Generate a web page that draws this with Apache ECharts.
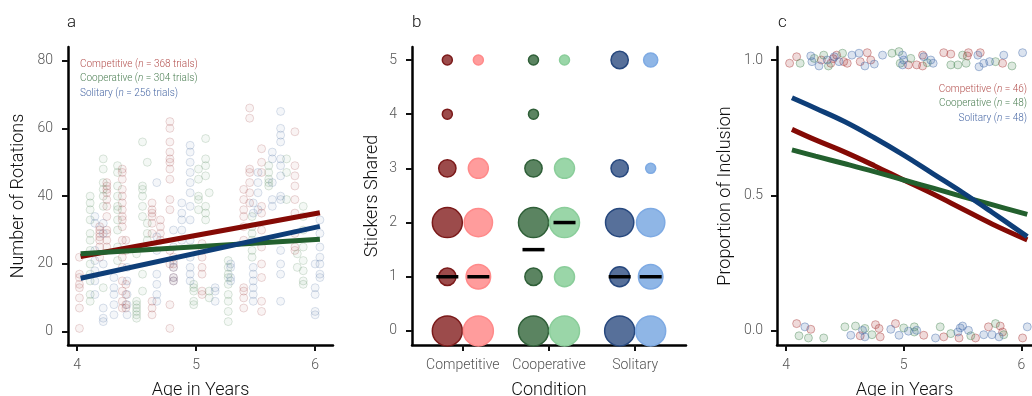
<!DOCTYPE html>
<html><head><meta charset="utf-8">
<script src="https://cdn.jsdelivr.net/npm/echarts@6/dist/echarts.min.js"></script>
<style>html,body{margin:0;padding:0;background:#fff}#c{width:1032px;height:396px}</style>
</head><body><div id="c"></div>
<script>
// ---------- shared ----------
const conditions = ['Competitive', 'Cooperative', 'Solitary'];
const ageTicks = [4, 5, 6];
const rotationTicks = [0, 20, 40, 60, 80];
const stickerTicks = [0, 1, 2, 3, 4, 5];
const inclusionTicks = [0, 0.5, 1];

// ---------- panel a: rotations per trial, columns of [age, values] ----------
const compRotations = [
  [4.02, [1, 7, 10, 13, 14, 16, 17, 22]],
  [4.19, [22, 25, 27, 28, 29, 30, 31]],
  [4.25, [25, 27, 29, 30, 34, 37, 39, 41, 42, 43, 44]],
  [4.38, [7, 9, 12, 15, 19, 22, 24, 27, 31, 33, 34, 36, 38, 40, 42, 45, 47, 48]],
  [4.41, [7, 8, 11, 14, 24, 27]],
  [4.63, [5, 7, 9, 29, 32, 34, 35, 36, 38]],
  [4.70, [27, 29, 31, 33]],
  [4.78, [1, 8, 20, 24, 36, 39, 45, 48, 50, 51, 53, 56, 60, 62]],
  [4.81, [15, 16, 19, 20, 22]],
  [5.05, [11, 12, 17, 19, 22, 24, 26]],
  [5.40, [7, 10, 12, 13, 27, 31, 34, 36, 39, 42]],
  [5.45, [38, 41, 44, 47, 48, 63, 66, 86]],
  [5.55, [6, 9, 16, 20, 25, 30, 35, 37, 47, 50, 54]],
  [5.83, [24, 25, 29, 35, 39, 43, 46, 49, 59]]
];
const coopRotations = [
  [4.11, [9, 11, 15, 17, 20, 24, 27, 29, 33, 36, 38, 40]],
  [4.22, [13, 37, 40, 42, 44, 48, 51]],
  [4.34, [21, 25, 30, 33, 36, 37, 40, 43, 47, 49]],
  [4.50, [4, 5, 6, 7, 8, 9, 23]],
  [4.55, [12, 17, 34, 37, 40, 42, 43, 56]],
  [4.59, [27, 29, 32, 50]],
  [4.98, [8, 9, 12, 13, 14]],
  [5.02, [36, 39, 40, 45, 48]],
  [5.08, [33, 35, 37, 46, 49, 51, 57]],
  [5.11, [10, 12, 41]],
  [5.27, [3, 6, 9, 11, 14, 16, 17, 19, 21]],
  [5.47, [22, 24, 27, 29, 31, 34]],
  [5.61, [43, 44, 45, 47, 49]],
  [5.76, [39, 47, 51]],
  [5.85, [19, 23]],
  [5.90, [14, 15, 18, 21, 25, 30, 34, 37]]
];
const soloRotations = [
  [4.15, [11, 15, 18, 21, 24, 32, 34]],
  [4.22, [3, 4, 7, 20, 29, 32]],
  [4.31, [5, 8, 11, 13, 16]],
  [4.42, [5, 8, 11, 15, 19]],
  [4.67, [9, 11, 14, 17, 24, 28, 44]],
  [4.81, [15, 16, 19, 21, 25, 30]],
  [4.88, [27, 30, 33, 35, 38]],
  [4.95, [15, 17, 19, 22, 27, 33, 37, 41, 44, 47, 50, 53, 55]],
  [5.16, [9, 12, 13]],
  [5.29, [15, 16, 19, 20]],
  [5.48, [9, 11, 13, 15, 17, 19, 35, 38]],
  [5.52, [36, 41, 44, 47]],
  [5.64, [37, 39, 44, 51, 53]],
  [5.71, [9, 17, 20, 24, 39, 40, 46, 49, 51, 56, 58, 60, 65]],
  [6.00, [5, 6, 11, 13, 20]],
  [6.04, [16, 17, 20, 22, 25, 29, 33]]
];
// fitted lines [age, rotations]
const compRotFit = [[4.03, 22.2], [6.04, 35.1]];
const coopRotFit = [[4.03, 23.0], [6.04, 27.3]];
const soloRotFit = [[4.03, 15.8], [6.04, 31.1]];

// ---------- panel b: counts per sticker level (0..5), two subgroups per condition ----------
const compDarkCounts  = [9, 3, 9, 3, 1, 1];
const compLightCounts = [9, 6, 8, 4, 0, 1];
const coopDarkCounts  = [9, 3, 9, 3, 1, 1];
const coopLightCounts = [9, 4, 9, 4, 0, 1];
const soloDarkCounts  = [9, 4, 8, 3, 0, 3];
const soloLightCounts = [9, 6, 8, 1, 0, 2];
const medianDark  = [1, 1.5, 1];
const medianLight = [1, 2, 1];

// ---------- panel c: inclusion (jittered 0/1) and fitted curves ----------
const compInclusion = [
  [4.03, 0.988], [4.09, 1.012], [4.30, 1.000], [4.38, 0.988], [4.40, 1.005], [4.43, 1.018], [4.49, 0.994],
  [4.52, 0.988], [4.63, 0.994], [4.69, 1.027], [4.72, 1.000], [5.04, 0.982], [5.11, 0.982], [5.16, 0.978],
  [5.16, 1.018], [5.34, 1.027], [5.40, 1.022], [5.54, 1.015], [5.55, 1.027], [5.65, 1.027], [5.84, 0.988],
  [4.09, 0.027], [4.21, 0.006], [4.63, -0.018], [4.76, 0.023], [4.79, 0.009], [4.80, -0.022], [4.93, 0.027],
  [5.17, -0.016], [5.34, -0.022], [5.47, -0.026], [5.61, -0.026], [5.72, 0.015], [5.82, 0.018], [5.84, -0.004],
  [6.01, -0.026]
];
const coopInclusion = [
  [4.12, 0.988], [4.24, 1.006], [4.32, 1.018], [4.36, 0.978], [4.48, 1.025], [4.90, 1.025], [4.96, 1.031],
  [4.97, 0.988], [5.06, 1.006], [5.20, 0.990], [5.40, 0.982], [5.46, 0.982], [5.50, 1.018], [5.53, 0.988],
  [5.78, 0.994], [5.92, 0.978],
  [4.11, -0.018], [4.19, -0.026], [4.32, -0.026], [4.50, 0.015], [4.59, 0.018], [4.67, 0.009], [4.73, -0.014],
  [5.00, 0.011], [5.09, -0.004], [5.09, 0.015], [5.31, 0.015], [5.40, -0.010], [5.57, -0.018], [5.78, 0.027],
  [5.85, -0.014]
];
const soloInclusion = [
  [4.21, 1.015], [4.22, 0.994], [4.28, 0.978], [4.35, 1.000], [4.41, 1.012], [4.45, 0.994], [4.56, 1.018],
  [4.62, 1.025], [4.67, 0.978], [4.75, 0.985], [4.82, 1.018], [4.99, 1.018], [5.00, 1.000], [4.99, 0.982],
  [5.17, 1.012], [5.23, 1.000], [5.25, 0.988], [5.63, 1.018], [5.64, 0.975], [5.68, 0.988], [5.73, 0.994],
  [5.85, 1.018], [6.01, 1.027],
  [4.16, 0.015], [4.55, -0.016], [4.65, 0.002], [4.67, -0.022], [4.89, 0.006], [4.96, -0.016], [5.04, -0.001],
  [5.11, 0.002], [5.27, -0.026], [5.46, -0.004], [5.48, 0.011], [5.50, 0.018], [5.55, 0.002], [5.68, -0.014],
  [5.75, -0.014], [5.81, -0.022], [6.05, 0.015]
];
const curveAges = [4.05, 4.25, 4.5, 4.75, 5.0, 5.25, 5.5, 5.75, 6.05];
const compCurve = [0.744, 0.705, 0.66, 0.61, 0.557, 0.505, 0.45, 0.395, 0.336];
const coopCurve = [0.668, 0.645, 0.617, 0.588, 0.557, 0.527, 0.496, 0.466, 0.43];
const soloCurve = [0.861, 0.822, 0.772, 0.713, 0.649, 0.58, 0.511, 0.438, 0.348];

// ---------- styling ----------
const FONT = 'Roboto, "Liberation Sans", sans-serif';
const C = {
  red: '#840a05', green: '#23602e', blue: '#0e3e78',
  redT: '#b3504e', greenT: '#4f8056', blueT: '#4b6aa6'
};

const flat = cols => cols.flatMap(([a, vs]) => vs.map(v => [a, v]));
const zipXY = (xs, ys) => xs.map((x, i) => [x, ys[i]]);
const bubbles = (counts, cat, off) => counts
  .map((n, lvl) => [cat + off, lvl, n]).filter(d => d[2] > 0);

function axis(gi, min, max, ticks, fmt, name, nameGap, margin) {
  return {
    type: 'value', gridIndex: gi, min, max,
    name, nameLocation: 'middle', nameGap,
    nameTextStyle: { fontFamily: FONT, fontSize: 18, color: '#111', fontWeight: 300 },
    axisLine: { show: true, onZero: false, lineStyle: { color: '#000', width: 2.5 } },
    axisTick: { show: true, length: 6, customValues: ticks, lineStyle: { color: '#111', width: 2 } },
    axisLabel: { customValues: ticks, formatter: fmt, margin, color: '#555', fontSize: 14, fontFamily: FONT, fontWeight: 300 },
    splitLine: { show: false }
  };
}

const faint = (r, g, b) => ({ color: `rgba(${r},${g},${b},0.07)`, borderColor: `rgba(${r},${g},${b},0.22)`, borderWidth: 1 });
const jit = (r, g, b) => ({ color: `rgba(${r},${g},${b},0.24)`, borderColor: `rgba(${r},${g},${b},0.55)`, borderWidth: 1 });

const series = [];
// panel a
[[compRotations, faint(150, 40, 40)], [coopRotations, faint(60, 120, 70)], [soloRotations, faint(50, 90, 150)]]
  .forEach(([cols, st]) => series.push({ type: 'scatter', xAxisIndex: 0, yAxisIndex: 0, data: flat(cols), symbolSize: 8, itemStyle: st, clip: true, silent: true }));
[[compRotFit, C.red], [coopRotFit, C.green], [soloRotFit, C.blue]]
  .forEach(([d, col]) => series.push({ type: 'line', xAxisIndex: 0, yAxisIndex: 0, data: d, showSymbol: false, lineStyle: { color: col, width: 5 }, silent: true }));

// panel b
const bubbleSpec = [
  [compDarkCounts, 1, -0.18, '#9c4b4b', '#7b1a1a'],
  [compLightCounts, 1, 0.18, '#ff9c9c', '#ff8a8a'],
  [coopDarkCounts, 2, -0.18, '#5b8461', '#2f5f38'],
  [coopLightCounts, 2, 0.18, '#9ad6a8', '#8acd9a'],
  [soloDarkCounts, 3, -0.18, '#57709a', '#27487e'],
  [soloLightCounts, 3, 0.18, '#8fb6e6', '#7eaae3']
];
bubbleSpec.forEach(([counts, cat, off, fill, border]) => series.push({
  type: 'scatter', xAxisIndex: 1, yAxisIndex: 1, data: bubbles(counts, cat, off),
  symbolSize: d => 10 * Math.sqrt(d[2]),
  itemStyle: { color: fill, borderColor: border, borderWidth: 1.5, opacity: 1 }, silent: true
}));
series.push({
  type: 'scatter', xAxisIndex: 1, yAxisIndex: 1, z: 5, silent: true,
  data: medianDark.map((m, i) => [i + 1 - 0.18, m]).concat(medianLight.map((m, i) => [i + 1 + 0.18, m])),
  symbol: 'rect', symbolSize: [22, 3.5], itemStyle: { color: '#000', opacity: 1 }
});

// panel c
[[compInclusion, jit(170, 60, 60)], [coopInclusion, jit(80, 140, 90)], [soloInclusion, jit(70, 110, 170)]]
  .forEach(([d, st]) => series.push({ type: 'scatter', xAxisIndex: 2, yAxisIndex: 2, data: d, symbolSize: 8, itemStyle: st, silent: true }));
[[compCurve, C.red], [coopCurve, C.green], [soloCurve, C.blue]]
  .forEach(([ys, col]) => series.push({ type: 'line', xAxisIndex: 2, yAxisIndex: 2, data: zipXY(curveAges, ys), smooth: 0.4, showSymbol: false, lineStyle: { color: col, width: 5 }, silent: true }));

const legendText = (x, y, lines, align) => lines.map(([label, n, col], i) => ({
  type: 'text', left: align === 'right' ? undefined : x, right: align === 'right' ? x : undefined, top: y + i * 14.5,
  style: {
    text: `{a|${label} (}{i|n}{a| = ${n})}`,
    rich: {
      a: { fontFamily: FONT, fontSize: 10, fill: col, fontWeight: 300 },
      i: { fontFamily: FONT, fontSize: 10, fill: col, fontStyle: 'italic', fontWeight: 300 }
    }
  }
}));

const option = {
  animation: false,
  backgroundColor: '#fff',
  grid: [
    { left: 68, top: 47, width: 265, height: 298, outerBoundsMode: 'none', containLabel: false },
    { left: 412, top: 47, width: 274, height: 298, outerBoundsMode: 'none', containLabel: false },
    { left: 777, top: 47, width: 255, height: 298, outerBoundsMode: 'none', containLabel: false }
  ],
  xAxis: [
    axis(0, 3.924, 6.15, ageTicks, v => String(v), 'Age in Years', 36, 13),
    axis(1, 0.41, 3.59, [1, 2, 3], v => conditions[Math.round(v) - 1], 'Condition', 36, 13),
    axis(2, 3.923, 6.09, ageTicks, v => String(v), 'Age in Years', 36, 13)
  ],
  yAxis: [
    axis(0, -3.9, 84, rotationTicks, v => String(v), 'Number of Rotations', 41, 15),
    axis(1, -0.26, 5.24, stickerTicks, v => String(v), 'Stickers Shared', 31, 15),
    axis(2, -0.052, 1.048, inclusionTicks, v => v.toFixed(1), 'Proportion of Inclusion', 43, 14)
  ],
  graphic: [
    { type: 'text', left: 67, top: 14, style: { text: 'a', fontFamily: FONT, fontSize: 17, fill: '#111', fontWeight: 300 } },
    { type: 'text', left: 412, top: 14, style: { text: 'b', fontFamily: FONT, fontSize: 17, fill: '#111', fontWeight: 300 } },
    { type: 'text', left: 778, top: 14, style: { text: 'c', fontFamily: FONT, fontSize: 17, fill: '#111', fontWeight: 300 } },
    ...legendText(80, 59, [['Competitive', '368 trials', C.redT], ['Cooperative', '304 trials', C.greenT], ['Solitary', '256 trials', C.blueT]], 'left'),
    ...legendText(5, 84, [['Competitive', '46', C.redT], ['Cooperative', '48', C.greenT], ['Solitary', '48', C.blueT]], 'right')
  ],
  series
};
echarts.init(document.getElementById('c')).setOption(option);
</script></body></html>
